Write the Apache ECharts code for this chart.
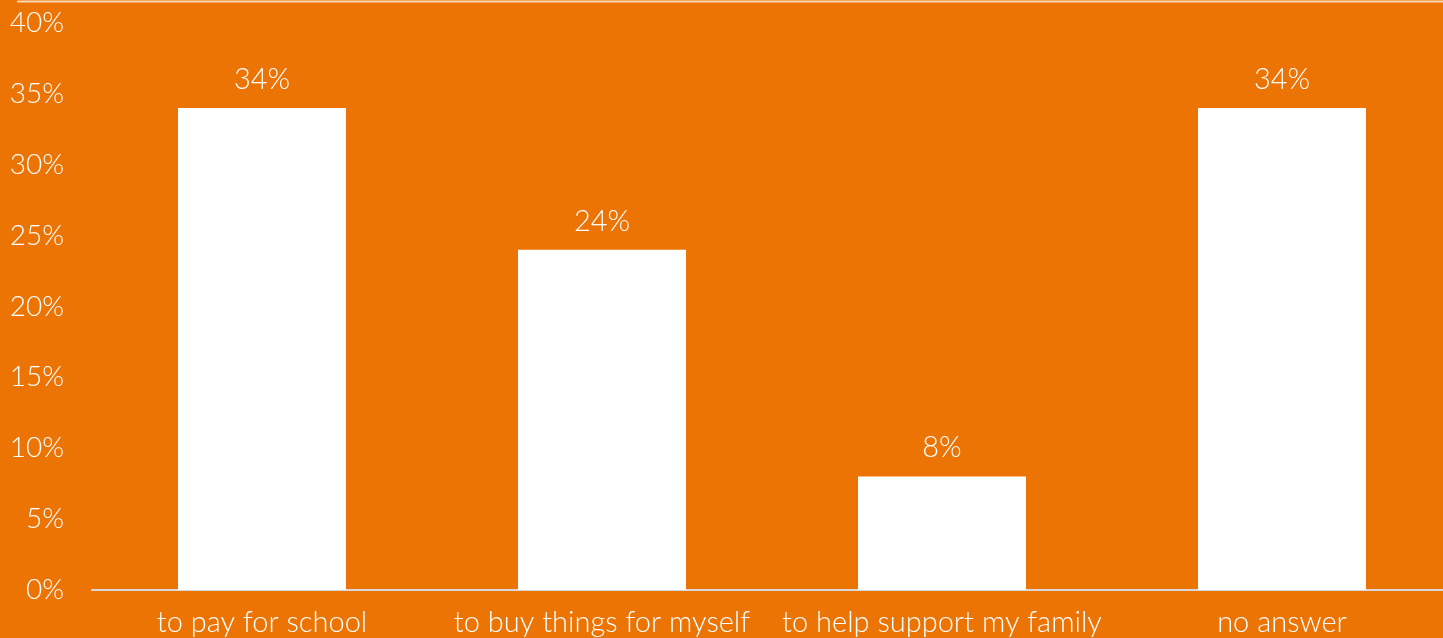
<!DOCTYPE html>
<html>
<head>
<meta charset="utf-8">
<script src="https://cdn.jsdelivr.net/npm/echarts@6/dist/echarts.min.js"></script>
<style>
  html, body { margin: 0; padding: 0; background: #EC7404; }
  #chart { width: 1443px; height: 638px; }
</style>
</head>
<body>
<div id="chart"></div>
<script>
// Reasons given for working
const categories = ['to pay for school', 'to buy things for myself', 'to help support my family', 'no answer'];
const shares = [34, 24, 8, 34];
const yTicks = [0, 5, 10, 15, 20, 25, 30, 35, 40];

const FONT = 'Lato, "Open Sans", sans-serif';
const chart = echarts.init(document.getElementById('chart'));

chart.setOption({
  backgroundColor: '#EC7404',
  animation: false,
  textStyle: { fontFamily: FONT },
  grid: { left: 92, width: 1360, top: 23, bottom: 48, containLabel: false, outerBoundsMode: 'none' },
  graphic: [{
    type: 'line',
    shape: { x1: 17, y1: 1.5, x2: 1443, y2: 1.5 },
    style: { stroke: '#F8D9B6', lineWidth: 2 }
  }],
  xAxis: {
    type: 'category',
    data: categories,
    axisLine: { lineStyle: { color: '#D9D9D9', width: 2 } },
    axisTick: { show: false },
    axisLabel: { color: '#FFFFFF', fontSize: 29, fontWeight: 300, margin: 18, interval: 0, fontFamily: FONT }
  },
  yAxis: {
    type: 'value',
    min: yTicks[0],
    max: yTicks[yTicks.length - 1],
    interval: 5,
    splitLine: { show: false },
    axisLine: { show: false },
    axisTick: { show: false },
    axisLabel: {
      color: '#FFFFFF', fontSize: 28, fontWeight: 300, margin: 28, fontFamily: FONT,
      formatter: v => v + '%'
    }
  },
  series: [{
    type: 'bar',
    data: shares,
    barWidth: 168,
    itemStyle: { color: '#FFFFFF' },
    label: {
      show: true,
      position: 'top',
      distance: 14,
      color: '#FFFFFF',
      fontSize: 29,
      fontWeight: 300,
      fontFamily: FONT,
      formatter: p => p.value + '%'
    }
  }]
});
</script>
</body>
</html>
